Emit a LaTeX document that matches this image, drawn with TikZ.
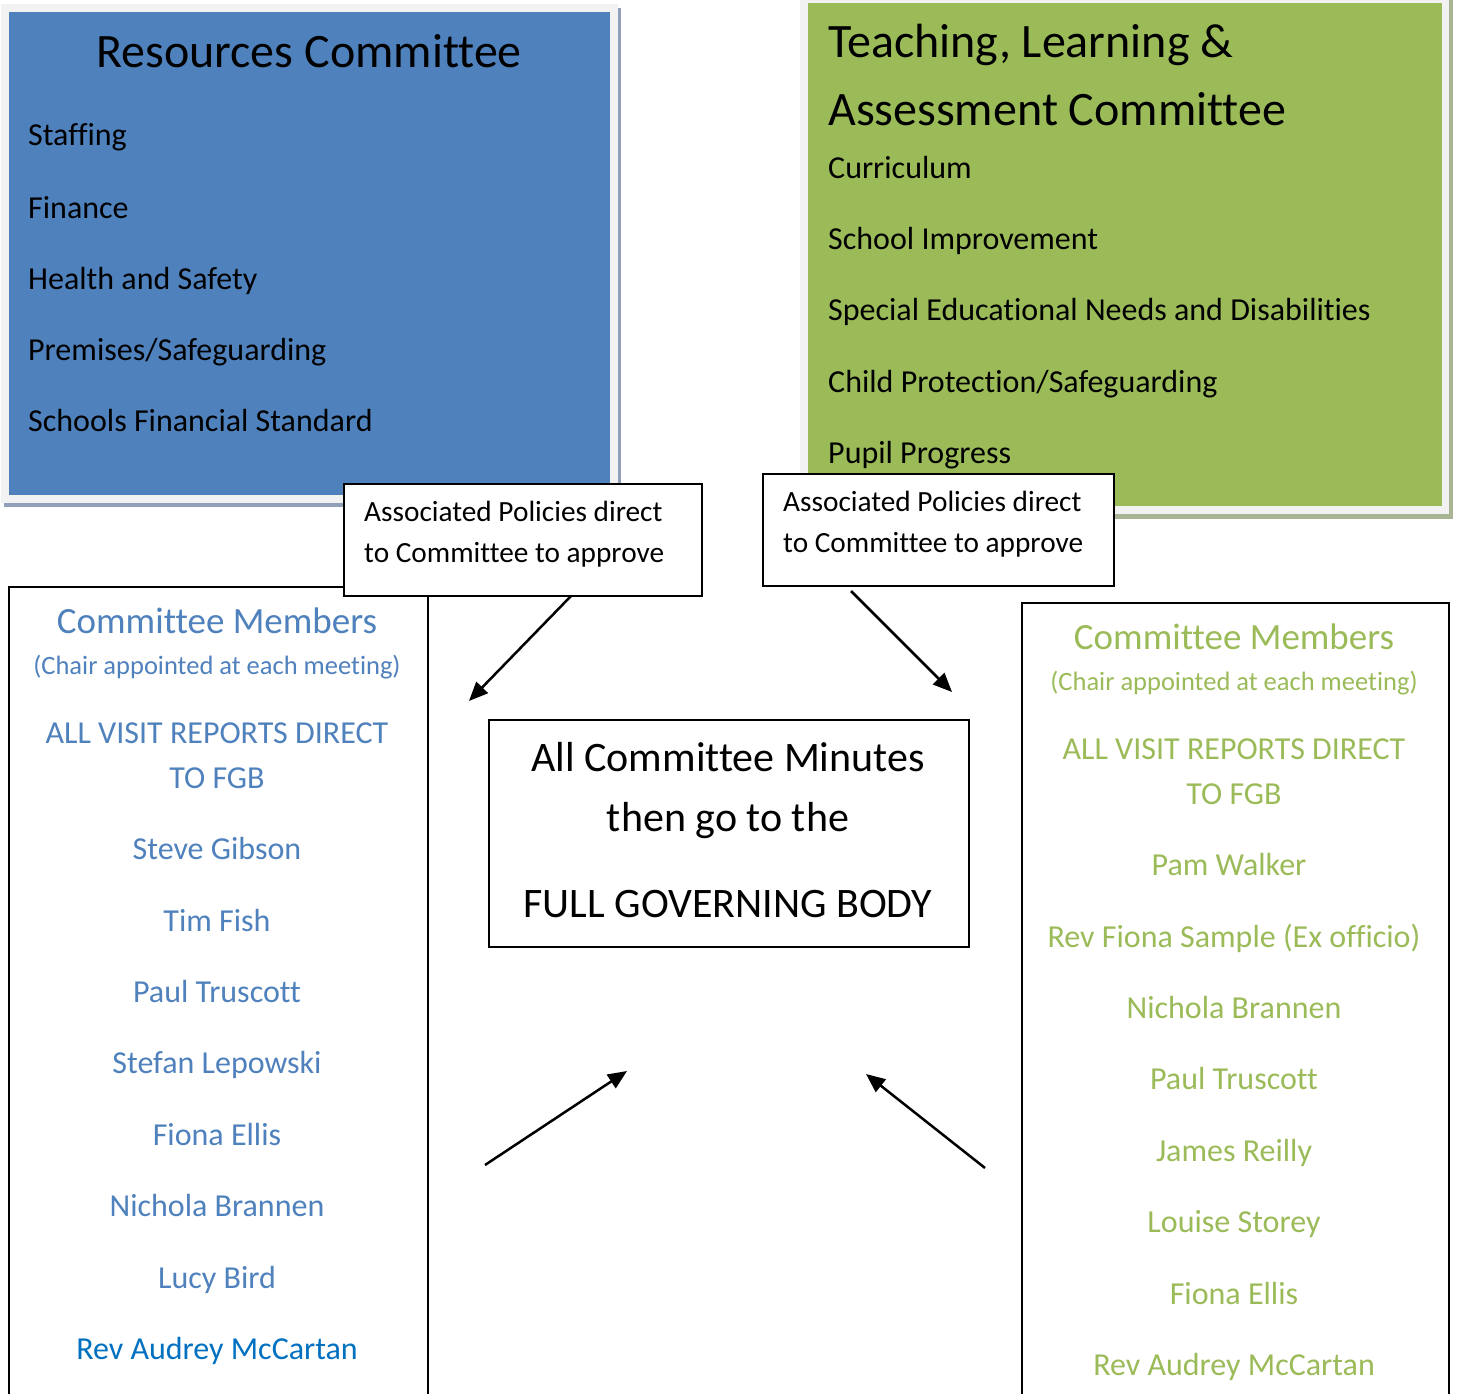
\documentclass[tikz,border=0pt]{standalone}
\usepackage{fontspec}
\setmainfont{Carlito}[Ligatures=NoCommon]
\usetikzlibrary{arrows.meta}
\definecolor{accblue}{RGB}{79,129,189}
\definecolor{accgreen}{RGB}{155,187,89}
\definecolor{darkblue}{RGB}{0,112,192}
\definecolor{framegray}{RGB}{242,242,242}
\definecolor{blueshadow}{RGB}{145,160,185}
\definecolor{greenshadow}{RGB}{168,180,148}
\begin{document}
\begin{tikzpicture}[x=1pt,y=-1pt,
  bigtitle/.style={anchor=base west, inner sep=0pt, font=\fontsize{48}{58}\selectfont},
  topic/.style={anchor=base west, inner sep=0pt, font=\fontsize{32}{38}\selectfont},
  assoc/.style={anchor=base west, inner sep=0pt, font=\fontsize{29.3}{35}\selectfont},
  memhead/.style={anchor=base, inner sep=0pt, font=\fontsize{37}{44}\selectfont},
  memsub/.style={anchor=base, inner sep=0pt, font=\fontsize{26.5}{32}\selectfont},
  memname/.style={anchor=base, inner sep=0pt, font=\fontsize{32}{38}\selectfont},
  minutes/.style={anchor=base, inner sep=0pt, font=\fontsize{42}{50}\selectfont},
  boxline/.style={draw=black, line width=2pt},
  flow/.style={line width=2.5pt, -{Triangle[length=19pt,width=16pt]}}
]
\useasboundingbox (0,0) rectangle (1461,1394);
\clip (0,0) rectangle (1461,1394);
\fill[white] (0,0) rectangle (1461,1394);

% Teaching, Learning & Assessment Committee panel
\fill[greenshadow] (804,-5) rectangle (1453,519);
\fill[framegray] (800,-8) rectangle (1449,514);
\node[fill=accgreen, inner sep=0pt, minimum width=634pt, minimum height=503pt, anchor=north west] (tla) at (808,3) {};
\node[bigtitle] (tlat1) at (828,58) {Teaching, Learning \&};
\node[bigtitle] (tlat2) at (828,125) {Assessment Committee};
\node[topic] (tla1) at (828,178) {Curriculum};
\node[topic] (tla2) at (828,249) {School Improvement};
\node[topic] (tla3) at (828,320) {Special Educational Needs and Disabilities};
\node[topic] (tla4) at (828,392) {Child Protection/Safeguarding};
\node[topic] (tla5) at (828,463) {Pupil Progress};

% Resources Committee panel
\fill[blueshadow] (4,8) rectangle (621,507);
\fill[framegray] (1,4) rectangle (618,503);
\node[fill=accblue, inner sep=0pt, minimum width=601pt, minimum height=483pt, anchor=north west] (res) at (9,12) {};
\node[anchor=base, inner sep=0pt, font=\fontsize{48}{58}\selectfont] (restitle) at (309,68) {Resources Committee};
\node[topic] (res1) at (28,146) {Staffing};
\node[topic] (res2) at (28,218) {Finance};
\node[topic] (res3) at (28,289) {Health and Safety};
\node[topic] (res4) at (28,360) {Premises/Safeguarding};
\node[topic] (res5) at (28,431) {Schools Financial Standard};

% Committee member boxes
\node[boxline, fill=white, inner sep=0pt, minimum width=419pt, minimum height=830pt, anchor=north west] (lmem) at (8,586) {};
\node[boxline, fill=white, inner sep=0pt, minimum width=427pt, minimum height=820pt, anchor=north west] (rmem) at (1021,602) {};

\begin{scope}[text=accblue]
\node[memhead] (lh) at (217,633) {Committee Members};
\node[memsub] (ls) at (217,674) {(Chair appointed at each meeting)};
\node[memname] (lv1) at (217,743) {ALL VISIT REPORTS DIRECT};
\node[memname] (lv2) at (217,788) {TO FGB};
\node[memname] (ln1) at (217,859) {Steve Gibson};
\node[memname] (ln2) at (217,931) {Tim Fish};
\node[memname] (ln3) at (217,1002) {Paul Truscott};
\node[memname] (ln4) at (217,1073) {Stefan Lepowski};
\node[memname] (ln5) at (217,1145) {Fiona Ellis};
\node[memname] (ln6) at (217,1216) {Nichola Brannen};
\node[memname] (ln7) at (217,1288) {Lucy Bird};
\end{scope}
\node[memname, text=darkblue] (ln8) at (217,1359) {Rev Audrey McCartan};

\begin{scope}[text=accgreen]
\node[memhead] (rh) at (1234,649) {Committee Members};
\node[memsub] (rs) at (1234,690) {(Chair appointed at each meeting)};
\node[memname] (rv1) at (1234,759) {ALL VISIT REPORTS DIRECT};
\node[memname] (rv2) at (1234,804) {TO FGB};
\node[memname] (rn1) at (1229,875) {Pam Walker};
\node[memname] (rn2) at (1234,947) {Rev Fiona Sample (Ex officio)};
\node[memname] (rn3) at (1234,1018) {Nichola Brannen};
\node[memname] (rn4) at (1234,1089) {Paul Truscott};
\node[memname] (rn5) at (1234,1161) {James Reilly};
\node[memname] (rn6) at (1234,1232) {Louise Storey};
\node[memname] (rn7) at (1234,1304) {Fiona Ellis};
\node[memname] (rn8) at (1234,1375) {Rev Audrey McCartan};
\end{scope}

% Associated policies boxes
\node[boxline, fill=white, inner sep=0pt, minimum width=358pt, minimum height=112pt, anchor=north west] (lassoc) at (343,483) {};
\node[assoc] (la1) at (364,521) {Associated Policies direct};
\node[assoc] (la2) at (364,562) {to Committee to approve};
\node[boxline, fill=white, inner sep=0pt, minimum width=351pt, minimum height=112pt, anchor=north west] (rassoc) at (762,473) {};
\node[assoc] (ra1) at (783,511) {Associated Policies direct};
\node[assoc] (ra2) at (783,552) {to Committee to approve};

% Central box
\node[boxline, fill=white, inner sep=0pt, minimum width=480pt, minimum height=227pt, anchor=north west] (fgb) at (488,719) {};
\node[minutes] (m1) at (728,771) {All Committee Minutes};
\node[minutes] (m2) at (728,831) {then go to the};
\node[minutes] (m3) at (728,917) {FULL GOVERNING BODY};

% Arrow end points
\coordinate (a1s) at (571,596);
\coordinate (a1e) at (469,701);
\coordinate (a2s) at (851,591);
\coordinate (a2e) at (952,692);
\coordinate (a3s) at (485,1165);
\coordinate (a3e) at (627,1071);
\coordinate (a4s) at (985,1168);
\coordinate (a4e) at (866,1074);

\draw[flow] (a1s) -- (a1e);
\draw[flow] (a2s) -- (a2e);
\draw[flow] (a3s) -- (a3e);
\draw[flow] (a4s) -- (a4e);
\end{tikzpicture}
\end{document}
